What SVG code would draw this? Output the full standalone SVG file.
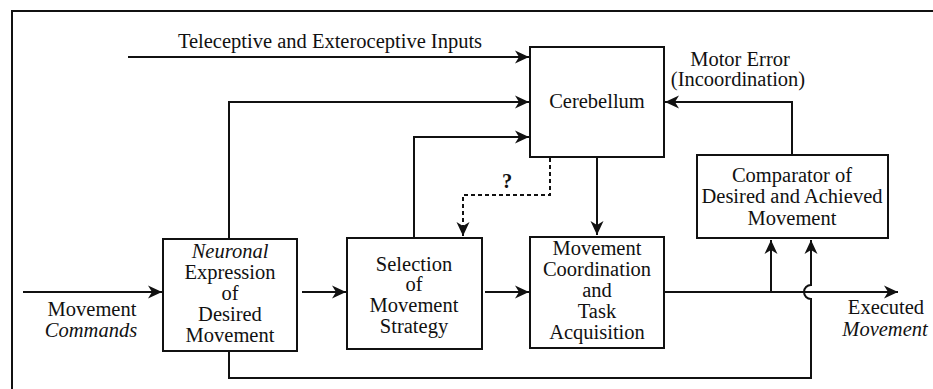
<svg xmlns="http://www.w3.org/2000/svg" width="933" height="389" viewBox="0 0 933 389">
<style>
text{font-family:"Liberation Serif","Times New Roman",serif;font-size:20.5px;fill:#111;text-anchor:middle}
.it{font-style:italic}
.box{fill:#fff;stroke:#111;stroke-width:2}
.ln{fill:none;stroke:#111;stroke-width:2}
.dash{fill:none;stroke:#111;stroke-width:2;stroke-dasharray:4,3}
</style>
<defs>
<marker id="ah" markerUnits="userSpaceOnUse" markerWidth="16" markerHeight="14" refX="14" refY="7" orient="auto" overflow="visible">
<path d="M14,7 L0,0.5 L4,7 L0,13.5 Z" fill="#111"/>
</marker>
</defs>
<rect width="933" height="389" fill="#fff"/>
<g id="frame"><path class="ln" d="M12,389 V11 H933" stroke-width="2.5"/></g>
<g id="connectors">
<path class="ln" d="M128,57 H529" marker-end="url(#ah)"/>
<path class="ln" d="M229,239 V102 H529" marker-end="url(#ah)"/>
<path class="ln" d="M414,238 V137 H529" marker-end="url(#ah)"/>
<path class="dash" d="M550,158 V195 H463 V236" marker-end="url(#ah)"/>
<path class="ln" d="M597,158 V235" marker-end="url(#ah)"/>
<path class="ln" d="M792,155 V102 H665" marker-end="url(#ah)"/>
<path class="ln" d="M23,292 H162" marker-end="url(#ah)"/>
<path class="ln" d="M302,292 H346" marker-end="url(#ah)"/>
<path class="ln" d="M485,292 H529" marker-end="url(#ah)"/>
<path class="ln" d="M665,292 H898" marker-end="url(#ah)"/>
<path class="ln" d="M771,292 V240" marker-end="url(#ah)"/>
<path class="ln" d="M229,351 V378 H811 V299 A7,7 0 0 1 811,285 V240" marker-end="url(#ah)"/>
</g>
<g id="labels">
<text x="330" y="48">Teleceptive and Exteroceptive Inputs</text>
<text x="740" y="66">Motor Error</text>
<text x="738" y="86">(Incoordination)</text>
<text x="507" y="188" font-weight="bold">?</text>
<text x="92" y="316">Movement</text>
<text x="91" y="337" class="it">Commands</text>
<text x="886" y="314">Executed</text>
<text x="885" y="336" class="it">Movement</text>
</g>
<g id="cerebellum">
<rect class="box" x="530" y="47" width="134" height="110"/>
<text x="597" y="108">Cerebellum</text>
</g>
<g id="comparator">
<rect class="box" x="697" y="155" width="191" height="83"/>
<text x="792" y="182">Comparator of</text>
<text x="792" y="203">Desired and Achieved</text>
<text x="792" y="225">Movement</text>
</g>
<g id="neuronal">
<rect class="box" x="163" y="239" width="134" height="112"/>
<text x="230" y="258" class="it">Neuronal</text>
<text x="230" y="279">Expression</text>
<text x="230" y="300">of</text>
<text x="230" y="321">Desired</text>
<text x="230" y="342">Movement</text>
</g>
<g id="selection">
<rect class="box" x="347" y="238" width="135" height="111"/>
<text x="414" y="271">Selection</text>
<text x="414" y="291">of</text>
<text x="414" y="312">Movement</text>
<text x="414" y="333">Strategy</text>
</g>
<g id="coordination">
<rect class="box" x="530" y="237" width="134" height="111"/>
<text x="597" y="255">Movement</text>
<text x="597" y="276">Coordination</text>
<text x="597" y="297">and</text>
<text x="597" y="318">Task</text>
<text x="597" y="339">Acquisition</text>
</g>
</svg>
